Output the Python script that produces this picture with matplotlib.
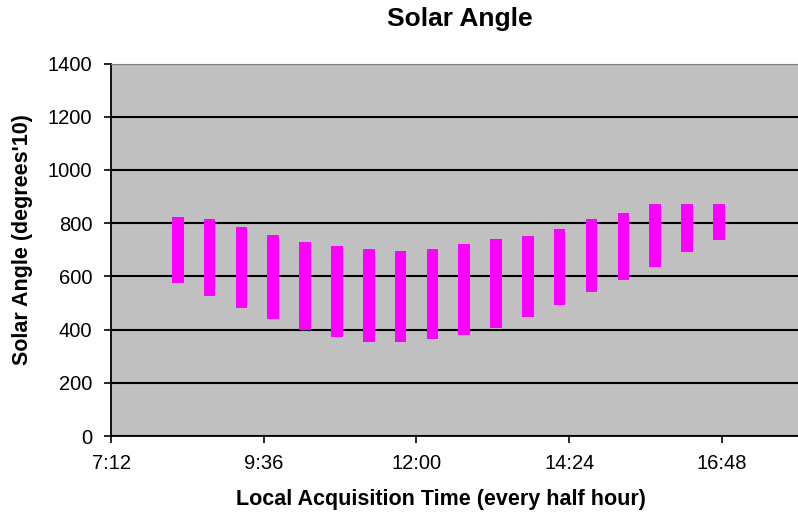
import matplotlib
matplotlib.use("Agg")
import matplotlib.pyplot as plt
from matplotlib.ticker import FuncFormatter, MultipleLocator

# Half-hourly acquisition times and the daily solar angle range (degrees*10)
times = ["8:15", "8:45", "9:15", "9:45", "10:15", "10:45", "11:15", "11:45", "12:15",
         "12:45", "13:15", "13:45", "14:15", "14:45", "15:15", "15:45", "16:15", "16:45"]
angle_low = [575, 527, 480, 440, 399, 372, 352, 352, 366,
             379, 406, 446, 493, 542, 588, 636, 691, 737]
angle_high = [825, 817, 785, 757, 730, 716, 702, 696, 702,
              723, 742, 750, 777, 817, 838, 871, 871, 871]
# axis ticks as fractions of a day (7:12 ... 16:48)
time_ticks = [0.3, 0.4, 0.5, 0.6, 0.7]


def to_day_fraction(t):
    h, m = t.split(":")
    return (int(h) + int(m) / 60) / 24


def fmt_time(v, pos):
    minutes = int(round(v * 24 * 60))
    return f"{minutes // 60}:{minutes % 60:02d}"


x = [to_day_fraction(t) for t in times]
heights = [hi - lo for hi, lo in zip(angle_high, angle_low)]

plt.rcParams['font.family'] = ['Liberation Sans', 'DejaVu Sans']

fig = plt.figure(figsize=(7.98, 5.18), dpi=100)
# plot area runs off the right edge of the figure
ax = fig.add_axes([0.1391, 0.1583, 0.957, 0.719])
ax.set_facecolor('#C0C0C0')

ax.bar(x, heights, bottom=angle_low, width=0.0076, color='#FF00FF', zorder=3)

ax.set_xlim(0.3, 0.8)
ax.set_ylim(0, 1400)
ax.set_xticks(time_ticks)
ax.xaxis.set_major_formatter(FuncFormatter(fmt_time))
ax.yaxis.set_major_locator(MultipleLocator(200))
ax.grid(axis='y', color='black', linewidth=1.5, zorder=1)

ax.spines['right'].set_visible(False)
ax.spines['top'].set_color('#808080')
ax.spines['left'].set_linewidth(1.3)
ax.spines['bottom'].set_linewidth(1.3)
ax.tick_params(axis='both', direction='out', length=5, width=1.2, labelsize=14.5)
ax.tick_params(axis='y', pad=8.5)
ax.tick_params(axis='x', pad=8)

fig.text(0.553, 1 - 499 / 518, 'Local Acquisition Time (every half hour)',
         ha='center', va='center', fontsize=15.5, fontweight='bold')
fig.text(0.0282, 1 - 240 / 518, "Solar Angle (degrees'10)", rotation=90,
         ha='center', va='center', fontsize=15.5, fontweight='bold')
fig.text(0.576, 0.963, 'Solar Angle', ha='center', va='center', fontsize=19, fontweight='bold')

fig.savefig('out.png', dpi=100)
